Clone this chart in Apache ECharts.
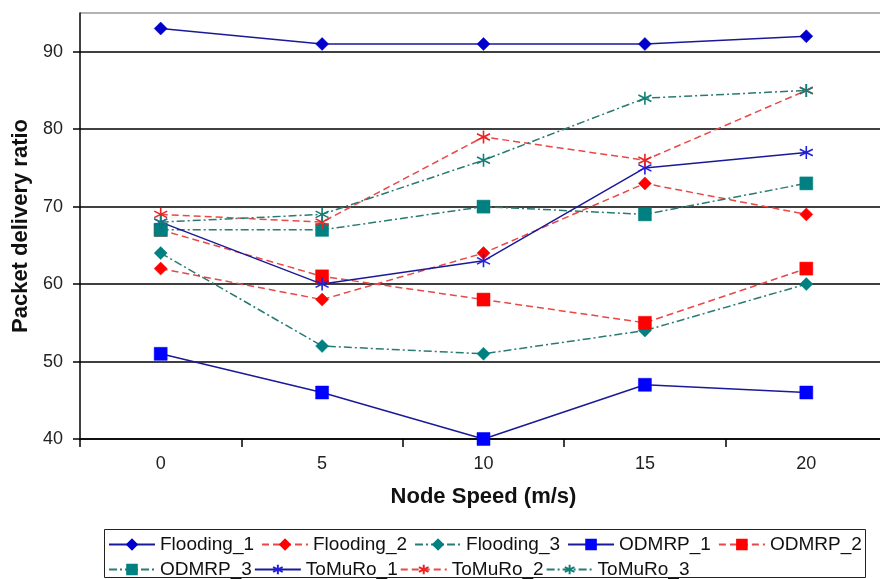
<!DOCTYPE html>
<html>
<head>
<meta charset="utf-8">
<script src="https://cdn.jsdelivr.net/npm/echarts@6/dist/echarts.min.js"></script>
<style>html,body{margin:0;padding:0;background:#fff;}#c{width:880px;height:579px;}</style>
</head>
<body>
<div id="c"></div>
<script>
const categories = ['0', '5', '10', '15', '20'];
const flooding1 = [93, 91, 91, 91, 92];
const flooding2 = [62, 58, 64, 73, 69];
const flooding3 = [64, 52, 51, 54, 60];
const odmrp1 = [51, 46, 40, 47, 46];
const odmrp2 = [67, 61, 58, 55, 62];
const odmrp3 = [67, 67, 70, 69, 73];
const tomuro1 = [68, 60, 63, 75, 77];
const tomuro2 = [69, 68, 79, 76, 85];
const tomuro3 = [68, 69, 76, 84, 85];
const yTicks = [40, 50, 60, 70, 80, 90];

const FONT = '"Liberation Sans", Arial, sans-serif';
const ASTER = 'path://M5,0 L5,10 M0.67,2.5 L9.33,7.5 M0.67,7.5 L9.33,2.5';
const DASH = [7, 4];
const DASHDOT = [8, 3, 2, 3];

function mk(name, data, symbol, size, markColor, lineColor, type) {
  return {
    name: name, type: 'line', data: data,
    symbol: symbol, symbolSize: size, showSymbol: true,
    lineStyle: { color: lineColor, width: 1.5, type: type },
    itemStyle: { color: markColor, borderColor: markColor, borderWidth: symbol === ASTER ? 1.6 : 0.5 },
    emphasis: { disabled: true },
    z: 2
  };
}

const series = [
  mk('Flooding_1', flooding1, 'diamond', 13, '#0000CC', '#1a1a99', 'solid'),
  mk('Flooding_2', flooding2, 'diamond', 13, '#FF0000', '#E84848', DASH),
  mk('Flooding_3', flooding3, 'diamond', 13, '#008080', '#2A7A72', DASHDOT),
  mk('ODMRP_1', odmrp1, 'rect', 13, '#0000FF', '#1a1a99', 'solid'),
  mk('ODMRP_2', odmrp2, 'rect', 13, '#FF0000', '#E84848', DASH),
  mk('ODMRP_3', odmrp3, 'rect', 13, '#008080', '#2A7A72', DASHDOT),
  mk('ToMuRo_1', tomuro1, ASTER, 13, '#2020DD', '#1a1a99', 'solid'),
  mk('ToMuRo_2', tomuro2, ASTER, 13, '#EE2222', '#E84848', DASH),
  mk('ToMuRo_3', tomuro3, ASTER, 13, '#117F78', '#2A7A72', DASHDOT)
];

const legendCommon = {
  orient: 'horizontal', itemWidth: 46, itemHeight: 12, padding: 0,
  textStyle: { fontFamily: FONT, fontSize: 19, color: '#111' },
  selectedMode: false
};

const chart = echarts.init(document.getElementById('c'), null, { renderer: 'canvas' });
chart.setOption({
  backgroundColor: '#fff',
  animation: false,
  grid: { left: 80, top: 13, width: 807, height: 426, containLabel: false, outerBoundsMode: 'none' },
  legend: [
    Object.assign({}, legendCommon, { left: 108, top: 535, itemGap: 7, data: series.slice(0, 5).map(s => s.name) }),
    Object.assign({}, legendCommon, { left: 108, top: 560, itemGap: 2, data: series.slice(5).map(s => s.name) })
  ],
  graphic: [{
    type: 'rect', shape: { x: 104.5, y: 529.5, width: 761, height: 48 },
    style: { fill: 'none', stroke: '#222', lineWidth: 1 }, silent: true, z: 0
  }],
  xAxis: {
    type: 'category', data: categories, boundaryGap: true,
    name: 'Node Speed (m/s)', nameLocation: 'middle', nameGap: 47,
    nameTextStyle: { fontFamily: FONT, fontSize: 22, fontWeight: 'bold', color: '#111' },
    axisLine: { show: true, lineStyle: { color: '#000', width: 1.5 } },
    axisTick: { show: true, inside: false, length: 8, alignWithLabel: false, lineStyle: { color: '#000', width: 1.5 } },
    axisLabel: { fontFamily: FONT, fontSize: 18, color: '#222', margin: 16 },
    splitLine: { show: false }
  },
  yAxis: {
    type: 'value', min: 40, max: 95, interval: 10,
    name: 'Packet delivery ratio', nameLocation: 'middle', nameGap: 47, nameRotate: 90,
    nameTextStyle: { fontFamily: FONT, fontSize: 22, fontWeight: 'bold', color: '#111' },
    axisLine: { show: true, lineStyle: { color: '#000', width: 1.5 } },
    axisTick: { show: true, inside: false, length: 7, lineStyle: { color: '#000', width: 1.5 } },
    axisLabel: { fontFamily: FONT, fontSize: 18, color: '#222', margin: 17, showMaxLabel: false,
      formatter: v => (yTicks.indexOf(v) >= 0 ? String(v) : '') },
    splitLine: { show: true, lineStyle: { color: ['#000', '#000', '#000', '#000', '#000', '#000', '#999'], width: 1.5 } }
  },
  series: series
});
</script>
</body>
</html>
